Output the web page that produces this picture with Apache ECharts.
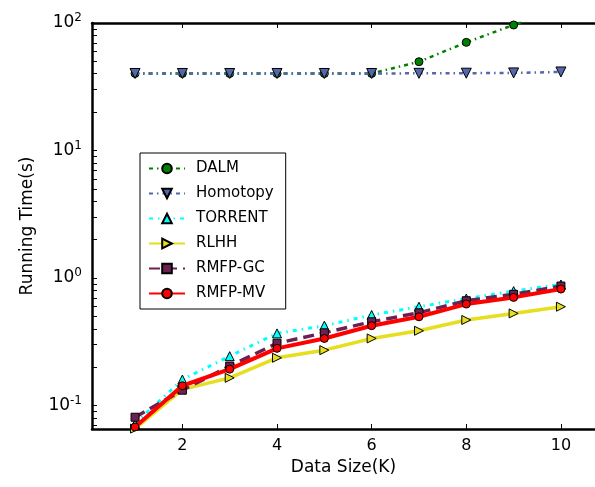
<!DOCTYPE html>
<html>
<head>
<meta charset="utf-8">
<script src="https://cdn.jsdelivr.net/npm/echarts@6/dist/echarts.min.js"></script>
<style>html,body{margin:0;padding:0;background:#fff}#c{width:595px;height:487px}</style>
</head>
<body>
<div id="c"></div>
<script>
var sizes = [1, 2, 3, 4, 5, 6, 7, 8, 9, 10];
var dalm = [40.2, 40.2, 40.2, 40.2, 40.2, 40.2, 49.7, 70.5, 96.5, 135];
var homotopy = [40.2, 40.2, 40.2, 40.2, 40.2, 40.2, 40.3, 40.4, 40.6, 41.3];
var torrent = [0.072, 0.160, 0.244, 0.368, 0.423, 0.513, 0.596, 0.690, 0.790, 0.890];
var rlhh = [0.066, 0.134, 0.165, 0.237, 0.272, 0.336, 0.386, 0.469, 0.528, 0.596];
var rmfpGC = [0.081, 0.132, 0.204, 0.308, 0.372, 0.454, 0.534, 0.664, 0.745, 0.865];
var rmfpMV = [0.068, 0.143, 0.193, 0.281, 0.336, 0.423, 0.497, 0.625, 0.705, 0.820];
var xTicks = [2, 4, 6, 8, 10];
var yLabels = [0.1, 1, 10, 100];
var yMinor = [0.07, 0.08, 0.09, 0.1, 0.2, 0.3, 0.4, 0.5, 0.6, 0.7, 0.8, 0.9, 1, 2, 3, 4, 5, 6, 7, 8, 9, 10, 20, 30, 40, 50, 60, 70, 80, 90, 100];

function pairs(arr) { return sizes.map(function (x, i) { return [x, arr[i]]; }); }
var FONT = 'DejaVu Sans';

function mk(name, data, color, lineType, width, symbol, size, rotate, z) {
  return {
    name: name, type: 'line', data: pairs(data),
    symbol: symbol, symbolSize: size, symbolRotate: rotate || 0,
    showSymbol: true, clip: true, z: z, animation: false,
    lineStyle: { color: color, width: width, type: lineType, cap: 'butt' },
    itemStyle: { color: color, borderColor: '#000', borderWidth: 1 },
    emphasis: { disabled: true }
  };
}

var chart = echarts.init(document.getElementById('c'), null, { renderer: 'canvas' });
chart.setOption({
  animation: false,
  backgroundColor: '#fff',
  textStyle: { fontFamily: FONT },
  grid: { left: 92, top: 23, right: 0, bottom: 58, containLabel: false },
  legend: {
    orient: 'vertical', left: 140, top: 153,
    backgroundColor: '#fff', borderColor: '#000', borderWidth: 1, borderRadius: 0,
    padding: [8, 12, 8, 8], itemGap: 10, itemWidth: 36, itemHeight: 12,
    textStyle: { fontFamily: FONT, fontSize: 15, color: '#000', padding: [0, 0, 0, 6] },
    data: ['DALM', 'Homotopy', 'TORRENT', 'RLHH', 'RMFP-GC', 'RMFP-MV']
  },
  xAxis: [{
    type: 'value', min: 0.09, max: 10.72, position: 'bottom',
    name: 'Data Size(K)', nameLocation: 'middle', nameGap: 28,
    nameTextStyle: { fontFamily: FONT, fontSize: 17, color: '#000' },
    axisLine: { show: true, onZero: false, lineStyle: { color: '#000', width: 2.5 } },
    axisTick: { show: true, inside: true, length: 5, customValues: xTicks, lineStyle: { color: '#000', width: 1 } },
    axisLabel: { show: true, customValues: xTicks, margin: 9, fontFamily: FONT, fontSize: 16, color: '#000' },
    splitLine: { show: false }
  }, {
    type: 'value', min: 0.09, max: 10.72, position: 'top',
    axisLine: { show: true, onZero: false, lineStyle: { color: '#000', width: 2.5 } },
    axisTick: { show: true, inside: true, length: 5, customValues: xTicks, lineStyle: { color: '#000', width: 1 } },
    axisLabel: { show: false },
    splitLine: { show: false }
  }],
  yAxis: [{
    type: 'log', logBase: 10, min: 0.0655, max: 100,
    name: 'Running Time(s)', nameLocation: 'middle', nameGap: 56,
    nameTextStyle: { fontFamily: FONT, fontSize: 17, color: '#000' },
    axisLine: { show: true, onZero: false, lineStyle: { color: '#000', width: 2.5 } },
    axisTick: { show: true, inside: true, length: 5, customValues: yMinor, lineStyle: { color: '#000', width: 1 } },
    axisLabel: {
      show: true, customValues: yLabels, margin: 10, color: '#000', fontFamily: FONT, fontSize: 17,
      formatter: function (v) {
        var e = Math.round(Math.log(v) / Math.LN10);
        return '10{s|' + e + '}';
      },
      rich: { s: { fontSize: 12, fontFamily: FONT, color: '#000', verticalAlign: 'top', padding: [0, 0, 10, 0] } }
    },
    splitLine: { show: false }
  }],
  series: [
    mk('DALM', dalm, '#008000', [4, 4, 1.5, 4], 2.5, 'circle', 8, 0, 2),
    mk('Homotopy', homotopy, '#5566aa', [4, 4, 1.5, 4], 2.5, 'triangle', 10, 180, 3),
    mk('TORRENT', torrent, '#00ffff', [4, 5, 1.5, 5], 3, 'triangle', 9, 0, 4),
    mk('RLHH', rlhh, '#e6de1e', 'solid', 3.5, 'triangle', 9, -90, 5),
    mk('RMFP-GC', rmfpGC, '#6b2252', [11, 6], 3.5, 'rect', 8, 0, 6),
    mk('RMFP-MV', rmfpMV, '#ff0000', 'solid', 4, 'circle', 8, 0, 7)
  ]
});
</script>
</body>
</html>
